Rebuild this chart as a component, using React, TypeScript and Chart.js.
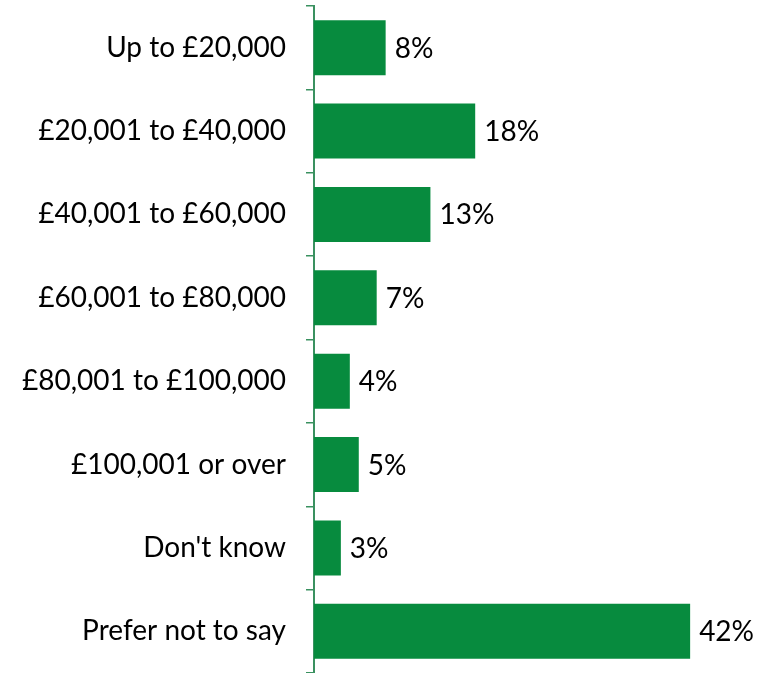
import React, { useEffect, useRef } from "react";
import { Chart, registerables } from "chart.js";

Chart.register(...registerables);

const categories = [
  "Up to £20,000",
  "£20,001 to £40,000",
  "£40,001 to £60,000",
  "£60,001 to £80,000",
  "£80,001 to £100,000",
  "£100,001 or over",
  "Don't know",
  "Prefer not to say",
];
const values = [8, 18, 13, 7, 4, 5, 3, 42];

const BAR_COLOR = "#078B3E";
const AXIS_COLOR = "#3A9160";
const FONT_FAMILY = "Lato, 'Open Sans', sans-serif";
const FONT_SIZE = 28;

export default function App() {
  const ref = useRef<HTMLCanvasElement | null>(null);

  useEffect(() => {
    if (!ref.current) return;
    const labelPlugin = {
      id: "valueLabels",
      afterDatasetsDraw(chart: any) {
        const ctx = chart.ctx;
        const meta = chart.getDatasetMeta(0);
        ctx.save();
        ctx.font = `${FONT_SIZE}px ${FONT_FAMILY}`;
        ctx.fillStyle = "#000";
        ctx.textAlign = "left";
        ctx.textBaseline = "middle";
        meta.data.forEach((bar: any, i: number) => {
          ctx.fillText(values[i] + "%", bar.x + 9, bar.y + 1);
        });
        ctx.restore();
      },
    };
    const chart = new Chart(ref.current, {
      type: "bar",
      data: {
        labels: categories,
        datasets: [
          {
            data: values,
            backgroundColor: BAR_COLOR,
            barPercentage: 0.66,
            categoryPercentage: 1,
          },
        ],
      },
      options: {
        indexAxis: "y",
        animation: false,
        responsive: false,
        maintainAspectRatio: false,
        layout: { padding: { top: 6, right: 42, bottom: 0, left: 0 } },
        plugins: { legend: { display: false }, tooltip: { enabled: false } },
        scales: {
          x: { display: false, min: 0, max: 45 },
          y: {
            afterFit: (scale: any) => {
              scale.width = 314;
              scale.paddingTop = 0;
              scale.paddingBottom = 0;
            },
            grid: {
              display: true,
              drawOnChartArea: false,
              drawTicks: true,
              tickLength: 8,
              color: AXIS_COLOR,
              lineWidth: 1.5,
              offset: true,
            },
            border: { display: true, color: AXIS_COLOR, width: 2 },
            ticks: {
              color: "#000",
              padding: 20,
              font: { family: FONT_FAMILY, size: FONT_SIZE },
            },
          },
        },
      },
      plugins: [labelPlugin],
    });
    return () => chart.destroy();
  }, []);

  return (
    <div style={{ position: "fixed", left: 0, top: 0, width: 759, height: 673, background: "#fff" }}>
      <canvas ref={ref} width={759} height={673} />
    </div>
  );
}
